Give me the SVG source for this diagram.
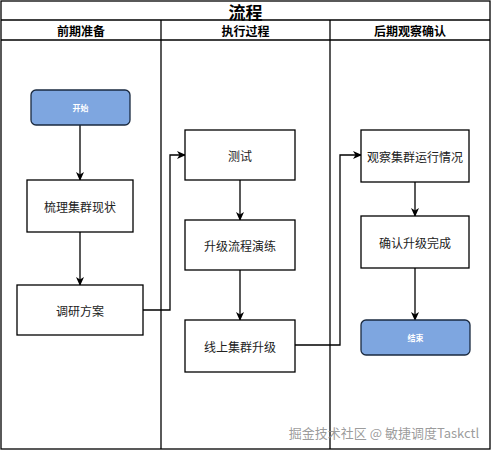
<svg xmlns="http://www.w3.org/2000/svg" width="492" height="452" viewBox="0 0 492 452">
<defs>
<marker id="arr" markerWidth="10" markerHeight="10" refX="8" refY="5" orient="auto" markerUnits="userSpaceOnUse">
<path d="M0,1 L9,5 L0,9 L2.5,5 Z" fill="#000"/>
</marker>
</defs>
<style>
text{font-family:"Noto Sans CJK SC","Liberation Sans",sans-serif;text-anchor:middle;dominant-baseline:central}
.lane{fill:none;stroke:#000;stroke-width:1.3}
.box{fill:#fff;stroke:#000;stroke-width:1.3}
.term{fill:#7EA6E0;stroke:#1a2a40;stroke-width:1.3}
.t{font-size:12px;fill:#222}
.tw{font-size:8px;fill:#fff;font-weight:bold}
.h{font-size:12px;font-weight:bold;fill:#000}
.c{fill:none;stroke:#000;stroke-width:1.3;marker-end:url(#arr)}
</style>
<rect width="492" height="452" fill="#fff"/>
<g id="pool">
<rect class="lane" x="1" y="1" width="489" height="448"/>
<line class="lane" x1="1" y1="20" x2="490" y2="20"/>
<line class="lane" x1="1" y1="40" x2="490" y2="40"/>
<line class="lane" x1="161" y1="20" x2="161" y2="449"/>
<line class="lane" x1="330" y1="20" x2="330" y2="449"/>
<text x="245.5" y="11" style="font-size:17px;font-weight:bold">流程</text>
<text class="h" x="81" y="30">前期准备</text>
<text class="h" x="245.5" y="30">执行过程</text>
<text class="h" x="410" y="30">后期观察确认</text>
</g>
<g id="connectors">
<path class="c" d="M80,125 V180"/>
<path class="c" d="M80,232 V285"/>
<path class="c" d="M143,310 H170 V155 H185"/>
<path class="c" d="M240,180 V220"/>
<path class="c" d="M240,270 V320"/>
<path class="c" d="M295,345 H340 V155 H361"/>
<path class="c" d="M415,182 V216"/>
<path class="c" d="M415,268 V320"/>
</g>
<g id="start"><rect class="term" x="31" y="90" width="99" height="35" rx="5"/><text class="tw" x="80.5" y="107.5">开始</text></g>
<g id="sort"><rect class="box" x="27" y="180" width="106" height="52"/><text class="t" x="80" y="206">梳理集群现状</text></g>
<g id="research"><rect class="box" x="17" y="285" width="126" height="50"/><text class="t" x="80" y="310">调研方案</text></g>
<g id="test"><rect class="box" x="185" y="130" width="110" height="50"/><text class="t" x="240" y="155">测试</text></g>
<g id="drill"><rect class="box" x="185" y="220" width="110" height="50"/><text class="t" x="240" y="245">升级流程演练</text></g>
<g id="upgrade"><rect class="box" x="185" y="320" width="110" height="52"/><text class="t" x="240" y="346">线上集群升级</text></g>
<g id="observe"><rect class="box" x="361" y="130" width="108" height="52"/><text class="t" x="415" y="156">观察集群运行情况</text></g>
<g id="confirm"><rect class="box" x="361" y="216" width="108" height="52"/><text class="t" x="415" y="242">确认升级完成</text></g>
<g id="end"><rect class="term" x="361" y="320" width="109" height="35" rx="5"/><text class="tw" x="415.5" y="337.5">结束</text></g>
<text x="384" y="432" style="font-size:13px;fill:#8a8a8a;fill-opacity:0.85">掘金技术社区 @ 敏捷调度Taskctl</text>
</svg>
